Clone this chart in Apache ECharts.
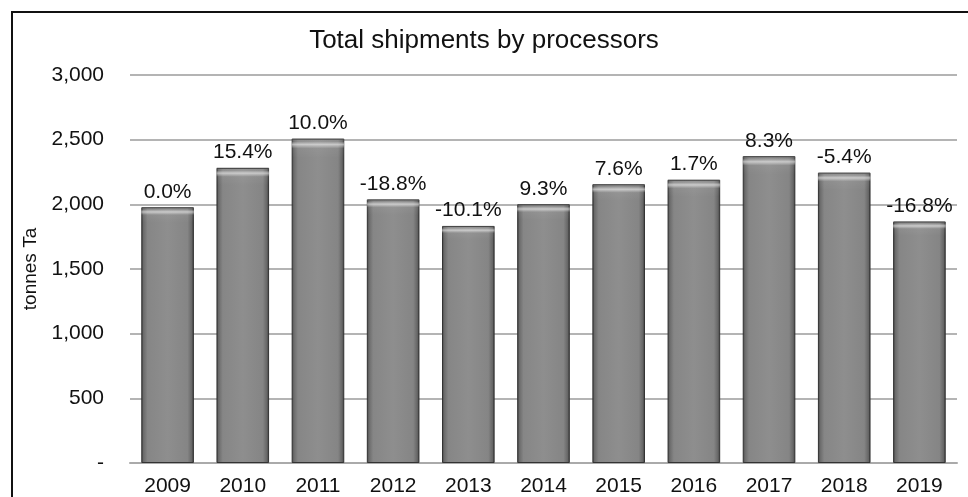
<!DOCTYPE html>
<html>
<head>
<meta charset="utf-8">
<title>Total shipments by processors</title>
<script src="https://cdn.jsdelivr.net/npm/echarts@6/dist/echarts.min.js"></script>
<style>
  html, body { margin: 0; padding: 0; background: #ffffff; }
  #chart { width: 968px; height: 497px; }
</style>
</head>
<body>
<div id="chart"></div>
<script>
// Shipments by year (tonnes Ta) and year-on-year change
const years = ['2009', '2010', '2011', '2012', '2013', '2014', '2015', '2016', '2017', '2018', '2019'];
const shipments = [1977, 2282, 2508, 2038, 1833, 2000, 2155, 2190, 2372, 2245, 1867];
const changes = ['0.0%', '15.4%', '10.0%', '-18.8%', '-10.1%', '9.3%', '7.6%', '1.7%', '8.3%', '-5.4%', '-16.8%'];
const yTicks = [0, 500, 1000, 1500, 2000, 2500, 3000];

const FONT = '"Liberation Sans", Arial, sans-serif';

const chart = echarts.init(document.getElementById('chart'), null, { renderer: 'canvas' });

const bodyFill = new echarts.graphic.LinearGradient(0, 0, 1, 0, [
  { offset: 0.00, color: '#3c3c3c' },
  { offset: 0.04, color: '#6a6a6a' },
  { offset: 0.12, color: '#868686' },
  { offset: 0.50, color: '#8e8e8e' },
  { offset: 0.88, color: '#858585' },
  { offset: 0.96, color: '#666666' },
  { offset: 1.00, color: '#353535' }
]);

const topShine = new echarts.graphic.LinearGradient(0, 0, 0, 1, [
  { offset: 0.000, color: 'rgba(40,40,40,0.35)' },
  { offset: 0.008, color: 'rgba(255,255,255,0.05)' },
  { offset: 0.018, color: 'rgba(255,255,255,0.55)' },
  { offset: 0.030, color: 'rgba(255,255,255,0.05)' },
  { offset: 0.060, color: 'rgba(255,255,255,0.0)' },
  { offset: 1.000, color: 'rgba(255,255,255,0.0)' }
]);

chart.setOption({
  animation: false,
  backgroundColor: '#ffffff',
  title: {
    text: 'Total shipments by processors',
    left: 'center',
    top: 23,
    textStyle: { fontFamily: FONT, fontSize: 26, fontWeight: 'normal', color: '#111111' }
  },
  graphic: [{
    type: 'rect',
    shape: { x: 12, y: 12, width: 1000, height: 600 },
    style: { fill: 'none', stroke: '#111111', lineWidth: 2 },
    silent: true,
    z: 100
  }],
  grid: { left: 130, right: 11, top: 75, bottom: 31, containLabel: false },
  xAxis: {
    type: 'category',
    data: years,
    axisLine: { show: true, lineStyle: { color: '#aaaaaa', width: 2 } },
    axisTick: { show: false },
    axisLabel: { fontFamily: FONT, fontSize: 21, color: '#111111', margin: 13 }
  },
  yAxis: {
    type: 'value',
    min: yTicks[0],
    max: yTicks[yTicks.length - 1],
    interval: 500,
    name: 'tonnes Ta',
    nameLocation: 'middle',
    nameGap: 90,
    nameTextStyle: { fontFamily: FONT, fontSize: 19, color: '#111111' },
    axisLine: { show: false },
    axisTick: { show: false },
    splitLine: { lineStyle: { color: '#b4b4b4', width: 2 } },
    axisLabel: {
      fontFamily: FONT, fontSize: 21, color: '#111111', margin: 26,
      formatter: v => v === 0 ? '-' : v.toLocaleString('en-US')
    }
  },
  series: [
    {
      type: 'bar',
      data: shipments,
      barWidth: '70%',
      itemStyle: { color: bodyFill, borderColor: '#333333', borderWidth: 1 },
      label: {
        show: true,
        position: 'top',
        distance: 5,
        fontFamily: FONT,
        fontSize: 21,
        color: '#111111',
        formatter: p => changes[p.dataIndex]
      },
      z: 2
    },
    {
      type: 'bar',
      data: shipments,
      barWidth: '70%',
      barGap: '-100%',
      silent: true,
      itemStyle: { color: topShine },
      z: 3
    }
  ]
});
</script>
</body>
</html>
